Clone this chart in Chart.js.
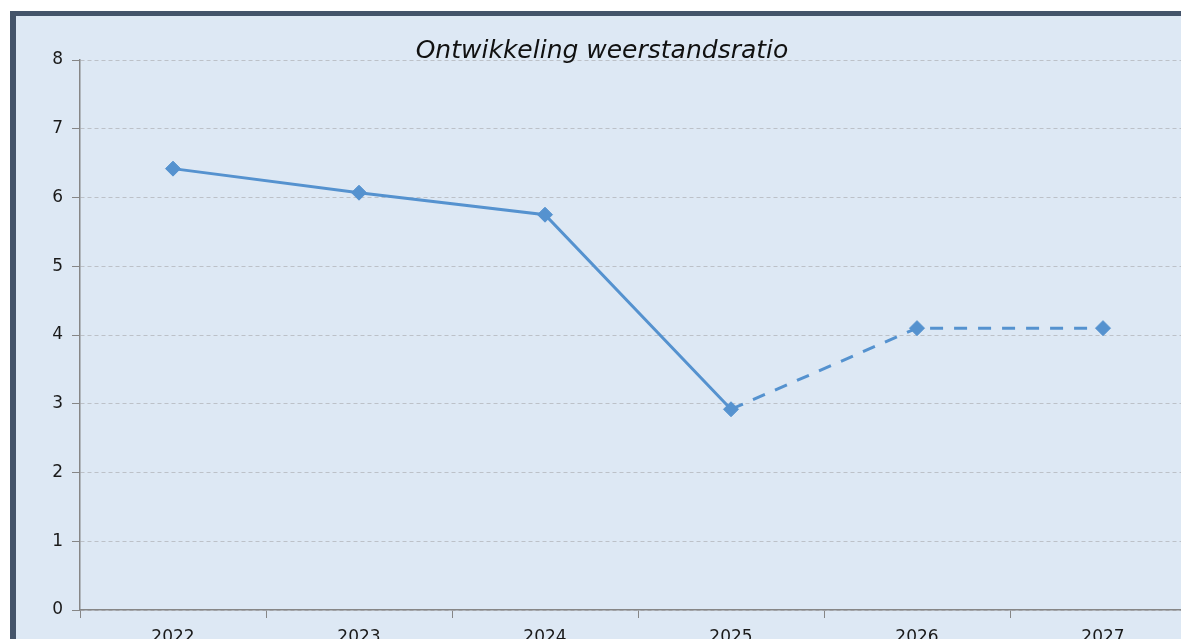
<!DOCTYPE html>
<html>
<head>
<meta charset="utf-8">
<script src="https://cdn.jsdelivr.net/npm/chart.js@4"></script>
<style>
  html, body { margin: 0; padding: 0; background: #ffffff; overflow: hidden; }
  .frame {
    position: absolute; left: 10px; top: 11px;
    width: 1220px; height: 700px;
    background: #dde8f4;
    border-left: 6px solid #44546a;
    border-top: 5px solid #44546a;
  }
  .chart-box { position: absolute; left: 0; top: 0; width: 1200px; height: 660px; }
  .title {
    position: absolute; left: 0; top: 21px; width: 1172px;
    text-align: center;
    font: italic 25px "DejaVu Sans", sans-serif;
    line-height: 25px;
    color: #111111;
  }
</style>
</head>
<body>
<div class="frame">
  <div class="chart-box"><canvas id="myChart"></canvas></div>
  <div class="title">Ontwikkeling weerstandsratio</div>
</div>
<script>
const years = ['2022', '2023', '2024', '2025', '2026', '2027'];
const ratio = [6.42, 6.07, 5.75, 2.92, 4.10, 4.10];
const yTicks = [0, 1, 2, 3, 4, 5, 6, 7, 8];
const forecastFrom = 3; // dashed from 2025 onward

const lineColor = '#5592cf';
const axisColor = '#868686';
const tickFont = { family: '"DejaVu Sans", Verdana, sans-serif', size: 17 };

const ctx = document.getElementById('myChart').getContext('2d');

new Chart(ctx, {
  type: 'line',
  data: {
    labels: years,
    datasets: [{
      label: 'Weerstandsratio',
      data: ratio,
      borderColor: lineColor,
      backgroundColor: lineColor,
      borderWidth: 3,
      fill: false,
      tension: 0,
      pointStyle: 'rectRot',
      pointRadius: 7.5,
      pointHoverRadius: 7.5,
      pointBorderWidth: 1,
      pointBackgroundColor: lineColor,
      pointBorderColor: lineColor,
      segment: {
        borderDash: c => c.p0DataIndex >= forecastFrom ? [13, 11] : undefined
      }
    }]
  },
  options: {
    responsive: true,
    maintainAspectRatio: false,
    animation: false,
    layout: { padding: { top: 44, left: 0, right: 20, bottom: 6 } },
    plugins: {
      legend: { display: false },
      title: { display: false },
      tooltip: { enabled: false }
    },
    scales: {
      x: {
        type: 'category',
        offset: true,
        grid: {
          offset: true,
          drawOnChartArea: false,
          tickLength: 8,
          tickColor: axisColor,
          tickWidth: 1
        },
        border: { color: axisColor, width: 1.5 },
        ticks: {
          color: '#1a1a1a',
          padding: 9,
          font: tickFont
        },
        afterFit: scale => { scale.height = 60; }
      },
      y: {
        min: 0,
        max: 8,
        afterBuildTicks: scale => { scale.ticks = yTicks.map(v => ({ value: v })); },
        grid: {
          color: '#bcc1c8',
          lineWidth: 1,
          tickLength: 8,
          tickColor: axisColor,
          tickWidth: 1
        },
        border: { color: axisColor, width: 1.5, dash: [4, 3] },
        ticks: {
          color: '#1a1a1a',
          padding: 9,
          font: tickFont
        },
        afterFit: scale => { scale.width = 64; }
      }
    }
  }
});
</script>
</body>
</html>
